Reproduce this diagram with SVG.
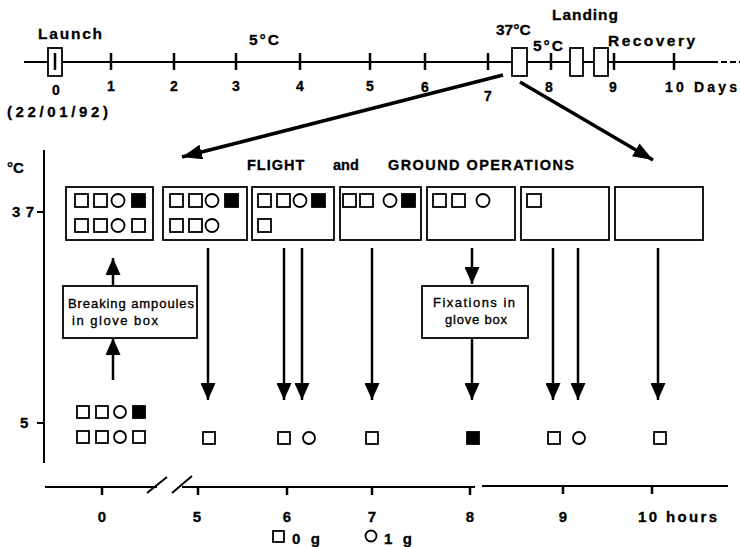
<svg xmlns="http://www.w3.org/2000/svg" width="740" height="547" viewBox="0 0 740 547">
<defs>
<style>
text{font-family:"Liberation Sans",Arial,sans-serif;font-weight:bold;fill:#000;stroke:#000;stroke-width:0.3}
.lbl{font-size:15.5px}
.hd{font-size:14.5px}
.num{font-size:14px}
.nb{font-size:15px}
.note{font-size:13px;font-weight:normal;stroke-width:0.35}
.ax{stroke:#000;stroke-width:2;fill:none}
.tk{stroke:#000;stroke-width:2.5}
.bx{fill:#fff;stroke:#000;stroke-width:1.8}
.sq{fill:#fff;stroke:#000;stroke-width:1.8}
.fs{fill:#000;stroke:#000;stroke-width:1.8}
.ci{fill:#fff;stroke:#000;stroke-width:1.8}
.ar{stroke:#000;stroke-width:2.5;fill:none;marker-end:url(#ah)}
.dg{stroke:#000;stroke-width:3.5;fill:none;marker-end:url(#ahb)}
</style>
<marker id="ah" viewBox="0 0 17 15" refX="17" refY="7.5" markerWidth="17" markerHeight="15" markerUnits="userSpaceOnUse" orient="auto"><path d="M0,0 L17,7.5 L0,15 z" fill="#000"/></marker>
<marker id="ahb" viewBox="0 0 20 15" refX="20" refY="7.5" markerWidth="20" markerHeight="15" markerUnits="userSpaceOnUse" orient="auto"><path d="M0,0 L20,7.5 L0,15 z" fill="#000"/></marker>
</defs>

<g id="top-timeline">
<line class="ax" x1="24" y1="62" x2="712" y2="62"/>
<line class="ax" x1="712" y1="62" x2="740" y2="62" stroke-dasharray="6 3"/>
<g class="tk">
<line x1="111" y1="53" x2="111" y2="70"/><line x1="174" y1="53" x2="174" y2="70"/>
<line x1="236" y1="53" x2="236" y2="70"/><line x1="300" y1="53" x2="300" y2="70"/>
<line x1="370" y1="53" x2="370" y2="70"/><line x1="425" y1="53" x2="425" y2="70"/>
<line x1="488" y1="53" x2="488" y2="70"/><line x1="551" y1="53" x2="551" y2="70"/>
<line x1="614" y1="53" x2="614" y2="70"/><line x1="674" y1="53" x2="674" y2="70"/>
</g>
<rect class="bx" x="48" y="48" width="14" height="28"/>
<line class="tk" x1="55" y1="53" x2="55" y2="70" stroke-width="2"/>
<rect class="bx" x="512" y="48" width="15" height="28"/>
<rect class="bx" x="570" y="48" width="13" height="28"/>
<rect class="bx" x="594" y="48" width="14" height="28"/>
<text class="lbl" x="38" y="39" textLength="64" lengthAdjust="spacing">Launch</text>
<text class="lbl" x="249" y="45" textLength="30" lengthAdjust="spacing">5°C</text>
<text class="lbl" x="496" y="35">37°C</text>
<text class="lbl" x="552" y="20" textLength="66" lengthAdjust="spacing">Landing</text>
<text class="lbl" x="533" y="51" textLength="30" lengthAdjust="spacing">5°C</text>
<text class="lbl" x="608" y="46" textLength="87" lengthAdjust="spacing">Recovery</text>
<g class="num" text-anchor="middle">
<text x="56" y="95">0</text><text x="111" y="91">1</text><text x="174" y="91">2</text>
<text x="236" y="91">3</text><text x="300" y="91">4</text><text x="370" y="91">5</text>
<text x="425" y="92">6</text><text x="488" y="101">7</text><text x="549" y="92">8</text>
<text x="613" y="92">9</text>
</g>
<text class="num" x="665" y="92" textLength="72" lengthAdjust="spacing">10 Days</text>
<text class="nb" x="7" y="117" textLength="101" lengthAdjust="spacing">(22/01/92)</text>
</g>

<g id="connectors">
<line class="dg" x1="503" y1="75" x2="182" y2="157"/>
<line class="dg" x1="520" y1="82" x2="653" y2="160"/>
<line class="ar" x1="113" y1="380" x2="113" y2="338"/>
<line class="ar" x1="113" y1="286" x2="113" y2="258"/>
<line class="ar" x1="208" y1="248" x2="208" y2="400"/>
<line class="ar" x1="284" y1="248" x2="284" y2="400"/>
<line class="ar" x1="302" y1="248" x2="302" y2="400"/>
<line class="ar" x1="372" y1="248" x2="372" y2="400"/>
<line class="ar" x1="472" y1="248" x2="472" y2="284"/>
<line class="ar" x1="472" y1="338" x2="472" y2="400"/>
<line class="ar" x1="553" y1="248" x2="553" y2="400"/>
<line class="ar" x1="578" y1="248" x2="578" y2="400"/>
<line class="ar" x1="658" y1="248" x2="658" y2="400"/>
</g>

<g id="temp-axis">
<line class="ax" x1="44" y1="150" x2="44" y2="463" stroke-width="2.5"/>
<line class="ax" x1="37" y1="212" x2="44" y2="212"/>
<line class="ax" x1="37" y1="423" x2="44" y2="423"/>
<text class="nb" x="7" y="173">°C</text>
<text class="nb" x="12" y="217" textLength="22" lengthAdjust="spacing">37</text>
<text class="nb" x="20" y="428">5</text>
</g>

<text class="hd" x="247" y="170" letter-spacing="1">FLIGHT</text>
<text class="hd" x="333" y="170">and</text>
<text class="hd" x="388" y="170" textLength="186" lengthAdjust="spacing">GROUND OPERATIONS</text>

<g id="box-0h">
<rect class="bx" x="66" y="187" width="87" height="53"/>
<rect class="sq" x="75" y="194" width="13" height="13"/><rect class="sq" x="94" y="194" width="13" height="13"/>
<circle class="ci" cx="118" cy="200.5" r="6.5"/><rect class="fs" x="132" y="194" width="13" height="13"/>
<rect class="sq" x="75" y="219" width="13" height="13"/><rect class="sq" x="94" y="219" width="13" height="13"/>
<circle class="ci" cx="118" cy="225.5" r="6.5"/><rect class="sq" x="132" y="219" width="13" height="13"/>
</g>
<g id="box-5h">
<rect class="bx" x="163" y="187" width="84" height="53"/>
<rect class="sq" x="170" y="194" width="13" height="13"/><rect class="sq" x="189" y="194" width="13" height="13"/>
<circle class="ci" cx="212" cy="200.5" r="6.5"/><rect class="fs" x="225" y="194" width="13" height="13"/>
<rect class="sq" x="170" y="219" width="13" height="13"/><rect class="sq" x="189" y="219" width="13" height="13"/>
<circle class="ci" cx="212" cy="225.5" r="6.5"/>
</g>
<g id="box-6h">
<rect class="bx" x="252" y="187" width="82" height="53"/>
<rect class="sq" x="258" y="194" width="13" height="13"/><rect class="sq" x="277" y="194" width="13" height="13"/>
<circle class="ci" cx="300" cy="200.5" r="6.5"/><rect class="fs" x="312" y="194" width="13" height="13"/>
<rect class="sq" x="258" y="219" width="13" height="13"/>
</g>
<g id="box-7h">
<rect class="bx" x="340" y="187" width="81" height="53"/>
<rect class="sq" x="343" y="194" width="13" height="13"/><rect class="sq" x="360" y="194" width="13" height="13"/>
<circle class="ci" cx="390" cy="200.5" r="6.5"/><rect class="fs" x="402" y="194" width="13" height="13"/>
</g>
<g id="box-8h">
<rect class="bx" x="427" y="187" width="88" height="53"/>
<rect class="sq" x="433" y="194" width="13" height="13"/><rect class="sq" x="452" y="194" width="13" height="13"/>
<circle class="ci" cx="483" cy="200.5" r="6.5"/>
</g>
<g id="box-9h">
<rect class="bx" x="521" y="187" width="88" height="53"/>
<rect class="sq" x="527" y="194" width="14" height="13"/>
</g>
<g id="box-10h">
<rect class="bx" x="615" y="187" width="88" height="53"/>
</g>

<g id="breaking-box">
<rect class="bx" x="63" y="286" width="134" height="52"/>
<text class="note" x="68" y="308" textLength="126" lengthAdjust="spacing">Breaking ampoules</text>
<text class="note" x="72" y="325" textLength="86" lengthAdjust="spacing">in glove box</text>
</g>
<g id="fixations-box">
<rect class="bx" x="422" y="286" width="106" height="52"/>
<text class="note" x="433" y="307" textLength="82" lengthAdjust="spacing">Fixations in</text>
<text class="note" x="445" y="324" textLength="62" lengthAdjust="spacing">glove box</text>
</g>

<g id="samples-5C">
<rect class="sq" x="77" y="406" width="12" height="12"/><rect class="sq" x="96" y="406" width="12" height="12"/>
<circle class="ci" cx="120" cy="412" r="6"/><rect class="fs" x="133" y="406" width="12" height="12"/>
<rect class="sq" x="77" y="431" width="12" height="12"/><rect class="sq" x="96" y="431" width="12" height="12"/>
<circle class="ci" cx="120" cy="437" r="6"/><rect class="sq" x="133" y="431" width="12" height="12"/>
<rect class="sq" x="203" y="432" width="12" height="12"/>
<rect class="sq" x="278" y="432" width="12" height="12"/>
<circle class="ci" cx="309" cy="438" r="6"/>
<rect class="sq" x="366" y="432" width="12" height="12"/>
<rect class="fs" x="467" y="432" width="12" height="12"/>
<rect class="sq" x="548" y="432" width="12" height="12"/>
<circle class="ci" cx="579" cy="438" r="6"/>
<rect class="sq" x="654" y="432" width="12" height="12"/>
</g>

<g id="hours-axis">
<line class="ax" x1="45" y1="487" x2="157" y2="487"/>
<line class="ax" x1="182" y1="487" x2="475" y2="487"/>
<line class="ax" x1="482" y1="486" x2="728" y2="486"/>
<line class="ax" x1="147" y1="493" x2="167" y2="477"/>
<line class="ax" x1="172" y1="493" x2="192" y2="476"/>
<g class="tk">
<line x1="102" y1="487" x2="102" y2="495"/><line x1="198" y1="487" x2="198" y2="495"/>
<line x1="287" y1="487" x2="287" y2="495"/><line x1="372" y1="487" x2="372" y2="495"/>
<line x1="470" y1="487" x2="470" y2="495"/><line x1="563" y1="486" x2="563" y2="494"/>
<line x1="652" y1="486" x2="652" y2="494"/>
</g>
<g class="nb" text-anchor="middle">
<text x="102" y="522">0</text><text x="197" y="522">5</text><text x="287" y="522">6</text>
<text x="372" y="522">7</text><text x="470" y="522">8</text><text x="563" y="522">9</text>
</g>
<text class="nb" x="638" y="522" textLength="79" lengthAdjust="spacing">10 hours</text>
</g>

<g id="legend">
<rect class="sq" x="273" y="531" width="11" height="11"/>
<text class="nb" x="292" y="544" textLength="28" lengthAdjust="spacing">0 g</text>
<circle class="ci" cx="371" cy="536" r="5.5"/>
<text class="nb" x="384" y="544" textLength="28" lengthAdjust="spacing">1 g</text>
</g>
</svg>
